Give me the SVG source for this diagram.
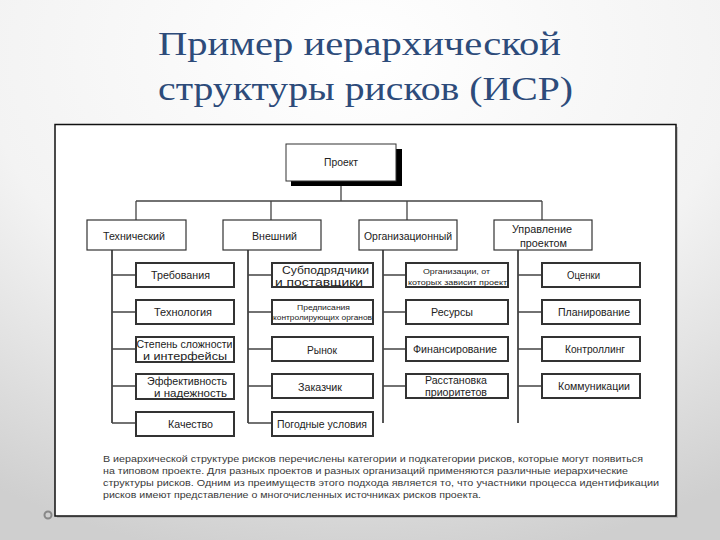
<svg xmlns="http://www.w3.org/2000/svg" width="720" height="540" viewBox="0 0 720 540">
<defs>
<radialGradient id="bg" cx="0.5" cy="0.1" r="0.95">
<stop offset="0" stop-color="#ffffff"/>
<stop offset="0.55" stop-color="#f3f3f3"/>
<stop offset="1" stop-color="#cfcfcf"/>
</radialGradient>
<style>
.title{font-family:"Liberation Serif","DejaVu Serif",serif;font-size:34px;fill:#2d4b7a}
.t{font-family:"Liberation Sans",Arial,sans-serif;font-size:10px;fill:#222;text-anchor:middle}
.b{font-size:11px}
.s{font-family:"Liberation Sans",Arial,sans-serif;font-size:8px;fill:#222;text-anchor:middle}
.p{font-family:"Liberation Sans",Arial,sans-serif;font-size:9.4px;fill:#3a3a3a}
.l1{fill:#fff;stroke:#333;stroke-width:1.2}
.l2{fill:#fff;stroke:#333;stroke-width:2}
.ln{fill:none;stroke:#444;stroke-width:1.3}
.sp{fill:none;stroke:#555;stroke-width:2}
</style>
</defs>
<rect width="720" height="540" fill="url(#bg)"/>
<text class="title" x="158" y="55" textLength="403" lengthAdjust="spacingAndGlyphs">Пример иерархической</text>
<text class="title" x="158" y="100" textLength="415" lengthAdjust="spacingAndGlyphs">структуры рисков (ИСР)</text>
<rect x="57" y="127" width="621" height="391" fill="#9a9a9a" opacity="0.5"/>
<rect x="55" y="124.5" width="621" height="391.5" fill="#fff" stroke="#111" stroke-width="1.5"/>
<circle cx="48" cy="515" r="3.5" fill="none" stroke="#888" stroke-width="2"/>

<g id="connectors">
<path class="ln" d="M341 186V201M136 201H542M136 201V220M271 201V220M407 201V220M542 201V220"/>
<path class="sp" d="M112 250V423M248 250V423M383 250V423M518 250V423"/>
<path class="ln" d="M112 275H136M112 312H136M112 349H136M112 386H136M112 423H136"/>
<path class="ln" d="M248 275H272M248 312H272M248 349H272M248 386H272M248 423H272"/>
<path class="ln" d="M383 275H406M383 312H406M383 349H406M383 386H406"/>
<path class="ln" d="M518 275H542M518 312H542M518 349H542M518 386H542"/>
</g>

<g id="root">
<rect x="291" y="149" width="111" height="37" fill="#000"/>
<rect x="286" y="144" width="110" height="37" fill="#fff" stroke="#333" stroke-width="1"/>
<text class="t" x="341" y="166" textLength="34" lengthAdjust="spacingAndGlyphs">Проект</text>
</g>

<g id="tech"><rect class="l1" x="87" y="220" width="99" height="30"/><text class="t" x="134" y="239.5" textLength="62" lengthAdjust="spacingAndGlyphs">Технический</text></g>
<g id="ext"><rect class="l1" x="223" y="220" width="98" height="30"/><text class="t" x="274.5" y="239.5" textLength="45" lengthAdjust="spacingAndGlyphs">Внешний</text></g>
<g id="org"><rect class="l1" x="359" y="220" width="98" height="30"/><text class="t" x="408" y="239.5" textLength="88" lengthAdjust="spacingAndGlyphs">Организационный</text></g>
<g id="pm"><rect class="l1" x="494" y="220" width="98" height="30"/><text class="t" x="542" y="232.5" textLength="60" lengthAdjust="spacingAndGlyphs">Управление</text><text class="t" x="543.5" y="246.5" textLength="47" lengthAdjust="spacingAndGlyphs">проектом</text></g>

<g id="t1"><rect class="l2" x="136" y="263" width="98" height="24"/><text class="t" x="180.5" y="279" textLength="59" lengthAdjust="spacingAndGlyphs">Требования</text></g>
<g id="t2"><rect class="l2" x="136" y="300" width="98" height="24"/><text class="t" x="183" y="316" textLength="58" lengthAdjust="spacingAndGlyphs">Технология</text></g>
<g id="t3"><rect class="l2" x="136" y="337" width="98" height="25"/><text class="t b" x="184.5" y="348" textLength="96" lengthAdjust="spacingAndGlyphs">Степень сложности</text><text class="t b" x="185" y="359.5" textLength="84" lengthAdjust="spacingAndGlyphs">и интерфейсы</text></g>
<g id="t4"><rect class="l2" x="136" y="374" width="98" height="25"/><text class="t b" x="187" y="384.5" textLength="80" lengthAdjust="spacingAndGlyphs">Эффективность</text><text class="t b" x="190.5" y="396.5" textLength="73" lengthAdjust="spacingAndGlyphs">и надежность</text></g>
<g id="t5"><rect class="l2" x="136" y="412" width="98" height="24"/><text class="t" x="190.5" y="427.5" textLength="45" lengthAdjust="spacingAndGlyphs">Качество</text></g>

<g id="e1"><rect class="l2" x="272" y="263" width="101" height="24"/><text class="t b" x="325.5" y="273.5" textLength="87" lengthAdjust="spacingAndGlyphs">Субподрядчики</text><text class="t b" x="319" y="285.5" textLength="88" lengthAdjust="spacingAndGlyphs">и поставщики</text></g>
<g id="e2"><rect class="l2" x="272" y="300" width="101" height="24"/><text class="s" x="323.5" y="310" textLength="53" lengthAdjust="spacingAndGlyphs">Предписания</text><text class="s" x="322.5" y="320" textLength="99" lengthAdjust="spacingAndGlyphs">контролирующих органов</text></g>
<g id="e3"><rect class="l2" x="272" y="337" width="101" height="24"/><text class="t" x="322" y="353.5" textLength="30" lengthAdjust="spacingAndGlyphs">Рынок</text></g>
<g id="e4"><rect class="l2" x="272" y="374" width="101" height="24"/><text class="t" x="320" y="390.5" textLength="44" lengthAdjust="spacingAndGlyphs">Заказчик</text></g>
<g id="e5"><rect class="l2" x="272" y="412" width="101" height="24"/><text class="t" x="322" y="427.5" textLength="90" lengthAdjust="spacingAndGlyphs">Погодные условия</text></g>

<g id="o1"><rect class="l2" x="406" y="263" width="102" height="24"/><text class="s" x="456.5" y="274" textLength="67" lengthAdjust="spacingAndGlyphs">Организации, от</text><text class="s" x="457.5" y="285" textLength="99" lengthAdjust="spacingAndGlyphs">которых зависит проект</text></g>
<g id="o2"><rect class="l2" x="406" y="300" width="102" height="24"/><text class="t" x="452" y="315.5" textLength="42" lengthAdjust="spacingAndGlyphs">Ресурсы</text></g>
<g id="o3"><rect class="l2" x="406" y="337" width="102" height="24"/><text class="t" x="455" y="352.5" textLength="84" lengthAdjust="spacingAndGlyphs">Финансирование</text></g>
<g id="o4"><rect class="l2" x="406" y="374" width="102" height="24"/><text class="t b" x="456" y="383.5" textLength="62" lengthAdjust="spacingAndGlyphs">Расстановка</text><text class="t b" x="456" y="395.5" textLength="62" lengthAdjust="spacingAndGlyphs">приоритетов</text></g>

<g id="m1"><rect class="l2" x="542" y="263" width="98" height="24"/><text class="t" x="583.5" y="278.5" textLength="33" lengthAdjust="spacingAndGlyphs">Оценки</text></g>
<g id="m2"><rect class="l2" x="542" y="300" width="98" height="24"/><text class="t" x="594" y="315.5" textLength="72" lengthAdjust="spacingAndGlyphs">Планирование</text></g>
<g id="m3"><rect class="l2" x="542" y="337" width="98" height="24"/><text class="t" x="595" y="352.5" textLength="60" lengthAdjust="spacingAndGlyphs">Контроллинг</text></g>
<g id="m4"><rect class="l2" x="542" y="374" width="98" height="24"/><text class="t" x="594" y="389.5" textLength="72" lengthAdjust="spacingAndGlyphs">Коммуникации</text></g>

<g id="note">
<text class="p" x="103" y="462" textLength="540" lengthAdjust="spacingAndGlyphs">В иерархической структуре рисков перечислены категории и подкатегории рисков, которые могут появиться</text>
<text class="p" x="103" y="474" textLength="525" lengthAdjust="spacingAndGlyphs">на типовом проекте. Для разных проектов и разных организаций применяются различные иерархические</text>
<text class="p" x="103" y="486" textLength="556" lengthAdjust="spacingAndGlyphs">структуры рисков. Одним из преимуществ этого подхода является то, что участники процесса идентификации</text>
<text class="p" x="103" y="498" textLength="378" lengthAdjust="spacingAndGlyphs">рисков имеют представление о многочисленных источниках рисков проекта.</text>
</g>
</svg>
